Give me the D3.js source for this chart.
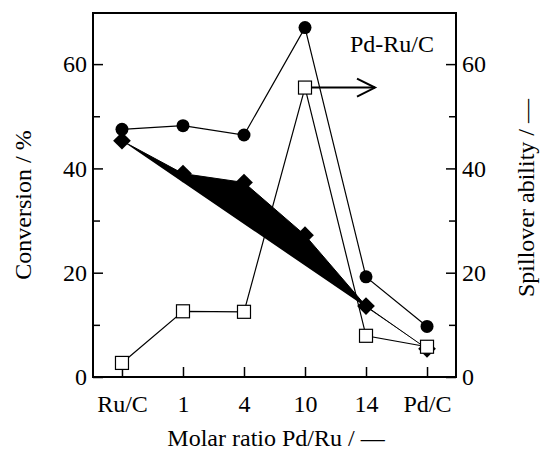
<!DOCTYPE html>
<html>
<head>
<meta charset="utf-8">
<script src="https://cdn.jsdelivr.net/npm/d3@7"></script>
<style>
  body { margin: 0; background: #fff; }
  text { font-family: "Liberation Serif", "Times New Roman", serif; fill: #000; }
</style>
</head>
<body>
<div id="chart"></div>
<script>
// data
const categories = ["Ru/C", "1", "4", "10", "14", "Pd/C"];
const conversionCircle = [47.5, 48.2, 46.4, 67.0, 19.2, 9.7];
const conversionDiamond = [45.3, 39.0, 37.3, 27.2, 13.6, 5.4];
const spillover = [2.7, 12.6, 12.5, 55.5, 7.9, 5.8];
const majorTicks = [0, 20, 40, 60];
const minorTicks = [10, 30, 50];

const W = 540, H = 450;
const margin = { top: 13, right: 84, bottom: 73, left: 93 };
const width = W - margin.left - margin.right;
const height = H - margin.top - margin.bottom;

const svg = d3.select("#chart").append("svg")
  .attr("width", W).attr("height", H);
const g = svg.append("g")
  .attr("transform", `translate(${margin.left},${margin.top})`);

const x = d3.scalePoint().domain(categories).range([0, width]).padding(0.475);
const yL = d3.scaleLinear().domain([0, 69.8]).range([height, 0]);
const yR = d3.scaleLinear().domain([0, 69.8]).range([height, 0]);

// frame
g.append("rect")
  .attr("width", width).attr("height", height)
  .attr("fill", "none").attr("stroke", "#000").attr("stroke-width", 2);

// axes
function styleAxis(sel, size) {
  sel.attr("font-family", null);
  sel.select(".domain").remove();
  sel.selectAll("line").attr("stroke", "#000").attr("stroke-width", 1.5);
  sel.selectAll("text").style("font-size", size + "px")
    .style("font-family", '"Liberation Serif", serif');
}

g.append("g")
  .call(d3.axisLeft(yL).tickValues(majorTicks).tickSize(-10).tickPadding(6))
  .call(s => styleAxis(s, 24));
g.append("g")
  .call(d3.axisLeft(yL).tickValues(minorTicks).tickSize(-7).tickFormat(""))
  .call(s => styleAxis(s, 24));
g.append("g").attr("transform", `translate(${width},0)`)
  .call(d3.axisRight(yR).tickValues(majorTicks).tickSize(-10).tickPadding(6))
  .call(s => styleAxis(s, 24));
g.append("g").attr("transform", `translate(${width},0)`)
  .call(d3.axisRight(yR).tickValues(minorTicks).tickSize(-7).tickFormat(""))
  .call(s => styleAxis(s, 24));
g.append("g").attr("transform", `translate(0,${height})`)
  .call(d3.axisBottom(x).tickSize(-10).tickPadding(18))
  .call(s => styleAxis(s, 24));

// axis titles
svg.append("text")
  .attr("x", 276).attr("y", 446)
  .attr("text-anchor", "middle").style("font-size", "24px")
  .text("Molar ratio Pd/Ru /  —");
svg.append("text")
  .attr("transform", `translate(31,205) rotate(-90)`)
  .attr("text-anchor", "middle").style("font-size", "24px")
  .text("Conversion  /  %");
svg.append("text")
  .attr("transform", `translate(534,198) rotate(-90)`)
  .attr("text-anchor", "middle").style("font-size", "24px")
  .text("Spillover ability /  —");

// diamond series: path left with default fill, as in the original
const lineL = d3.line().x((d, i) => x(categories[i])).y(d => yL(d));
const lineR = d3.line().x((d, i) => x(categories[i])).y(d => yR(d));

g.append("path").datum(conversionDiamond)
  .attr("d", lineL).attr("fill", "#000").attr("stroke", "#000").attr("stroke-width", 1);

g.append("path").datum(conversionCircle)
  .attr("d", lineL).attr("fill", "none").attr("stroke", "#000").attr("stroke-width", 1.2);

g.append("path").datum(spillover)
  .attr("d", lineR).attr("fill", "none").attr("stroke", "#000").attr("stroke-width", 1.2);

g.selectAll(".diamond").data(conversionDiamond).enter().append("path")
  .attr("class", "diamond")
  .attr("transform", (d, i) => `translate(${x(categories[i])},${yL(d)})`)
  .attr("d", d3.symbol(d3.symbolDiamond2, 200))
  .attr("fill", "#000");

g.selectAll(".circ").data(conversionCircle).enter().append("circle")
  .attr("class", "circ")
  .attr("cx", (d, i) => x(categories[i])).attr("cy", d => yL(d))
  .attr("r", 6.5).attr("fill", "#000");

g.selectAll(".sq").data(spillover).enter().append("rect")
  .attr("class", "sq")
  .attr("x", (d, i) => x(categories[i]) - 6.5).attr("y", d => yR(d) - 6.5)
  .attr("width", 13).attr("height", 13)
  .attr("fill", "#fff").attr("stroke", "#000").attr("stroke-width", 1.2);

// arrow pointing to the right axis
const ax0 = x("10") + 6.5, ax1 = x("10") + 70, ay = yR(spillover[3]);
g.append("line").attr("x1", ax0).attr("x2", ax1).attr("y1", ay).attr("y2", ay)
  .attr("stroke", "#000").attr("stroke-width", 2);
g.append("path")
  .attr("d", `M${ax1 - 18},${ay - 9}L${ax1},${ay}L${ax1 - 18},${ay + 9}`)
  .attr("fill", "none").attr("stroke", "#000").attr("stroke-width", 2);

g.append("text")
  .attr("x", 350 - margin.left).attr("y", 52 - margin.top)
  .style("font-size", "24px")
  .text("Pd-Ru/C");
</script>
</body>
</html>
